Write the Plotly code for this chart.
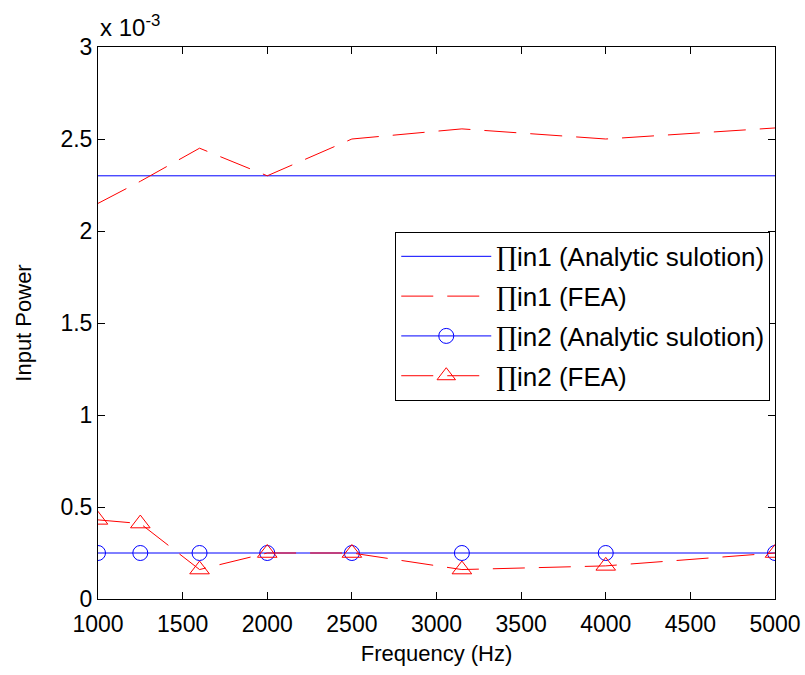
import plotly.graph_objects as go

# Frequencies (Hz) and input power values (units of 1e-3)
freq = [1000, 1250, 1600, 2000, 2500, 3150, 4000, 5000]
pin1_analytic = [2.3, 2.3, 2.3, 2.3, 2.3, 2.3, 2.3, 2.3]
pin1_fea = [2.15, 2.27, 2.45, 2.3, 2.5, 2.555, 2.5, 2.56]
pin2_analytic = [0.25, 0.25, 0.25, 0.25, 0.25, 0.25, 0.25, 0.25]
pin2_fea = [0.43, 0.41, 0.16, 0.25, 0.25, 0.16, 0.18, 0.25]

x_ticks = [1000, 1500, 2000, 2500, 3000, 3500, 4000, 4500, 5000]
y_ticks = [0, 0.5, 1, 1.5, 2, 2.5, 3]

BLUE = "#0000ff"
RED = "#ff0000"
FONT = "Liberation Sans, Arial, sans-serif"
DASH = "32px,14px"
PI = "<span style='font-family:DejaVu Serif'>∏</span>"

fig = go.Figure()
fig.add_trace(go.Scatter(
    x=freq, y=pin1_analytic, mode="lines", name=PI + "in1 (Analytic sulotion)",
    legendgroup="a", line=dict(color=BLUE, width=1)))
fig.add_trace(go.Scatter(
    x=freq, y=pin1_fea, mode="lines", name=PI + "in1 (FEA)",
    legendgroup="b", line=dict(color=RED, width=1, dash=DASH)))
fig.add_trace(go.Scatter(
    x=freq, y=pin2_analytic, mode="lines+markers", name=PI + "in2 (Analytic sulotion)",
    legendgroup="c", line=dict(color=BLUE, width=1),
    marker=dict(symbol="circle-open", size=15, color=BLUE, line=dict(width=1))))
fig.add_trace(go.Scatter(
    x=freq, y=pin2_fea, mode="lines+markers", name=PI + "in2 (FEA)",
    legendgroup="d", line=dict(color=RED, width=1, dash=DASH),
    marker=dict(symbol="triangle-up-open", size=17, color=RED, line=dict(width=1))))

axis_common = dict(
    showgrid=False, zeroline=False, showline=True, linecolor="black", linewidth=1,
    mirror="allticks", ticks="inside", ticklen=7, tickcolor="black",
    tickfont=dict(family=FONT, size=23, color="black"), automargin=False,
)

fig.update_xaxes(
    range=[1000, 5000], tickvals=x_ticks, ticktext=[str(v) for v in x_ticks],
    ticklabelstandoff=4,
    title=dict(text="Frequency (Hz)", font=dict(family=FONT, size=22, color="black"), standoff=10),
    **axis_common)
fig.update_yaxes(
    range=[0, 3], tickvals=y_ticks, ticktext=[f"{v:g}" for v in y_ticks],
    title=dict(text="Input Power", font=dict(family=FONT, size=22, color="black"), standoff=22),
    **axis_common)

fig.add_annotation(
    x=0.0, y=1.0, xref="paper", yref="paper", xanchor="left", yanchor="bottom",
    xshift=0, yshift=4, showarrow=False,
    text="x 10<sup>-3</sup>", font=dict(family=FONT, size=24, color="black"))

fig.update_layout(
    width=805, height=675,
    margin=dict(l=98, r=30, t=47, b=76),
    paper_bgcolor="white", plot_bgcolor="white",
    font=dict(family=FONT, size=22, color="black"),
    legend=dict(
        x=0.993, y=0.665, xanchor="right", yanchor="top",
        bgcolor="white", bordercolor="black", borderwidth=1,
        font=dict(family=FONT, size=26, color="black"),
        tracegroupgap=3, itemwidth=90,
    ),
    showlegend=True,
)

fig.write_html("out.html")
